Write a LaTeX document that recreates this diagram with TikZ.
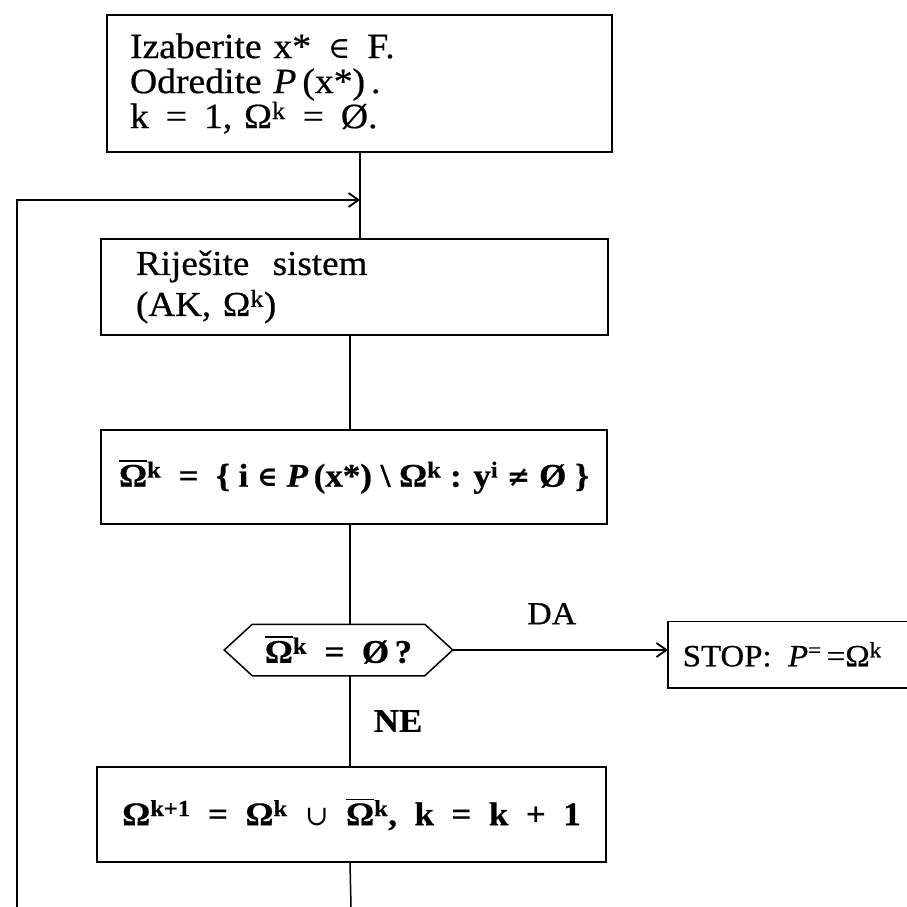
\documentclass[tikz,border=0pt]{standalone}
\usepackage{fontspec}
\setmainfont{Liberation Serif}[FakeStretch=1.06, FakeBold=0.6]
\newfontfamily\symf{DejaVu Serif}[Scale=0.85]
\usetikzlibrary{arrows.meta}
\newcommand\obar[1]{\setbox0\hbox{#1}\rlap{\raisebox{\dimexpr\ht0+3pt\relax}{\rule{\wd0}{1.6pt}}}\box0}
\newcommand\sy[1]{{\symf #1}}
\newcommand\gap{\hspace{17pt}}
\begin{document}
\begin{tikzpicture}[x=1pt,y=-1pt,line width=1.5pt,
  every node/.style={inner sep=0pt},
  flowbox/.style={draw, line width=1.5pt},
  arr/.style={-{Straight Barb[length=10pt,width=14pt,line width=1.8pt]}},
  boldtxt/.style={font=\fontsize{33}{36}\selectfont\bfseries}]
\useasboundingbox (0,0) rectangle (907,907);

% boxes
\node[flowbox, minimum width=505pt, minimum height=137pt, text width=459pt, align=left,
  font=\fontsize{35.5}{35}\selectfont] (b1) at (359.5,83.5)
  {Izaberite x*\gap\sy{∈}\gap F.\\
   Odredite \textit{P}\,(x*)\,.\\
   k\gap=\gap1, Ω\textsuperscript{k}\gap=\gap Ø.};
\node[flowbox, minimum width=507pt, minimum height=96pt, text width=437pt, align=left,
  font=\fontsize{35}{41}\selectfont] (b2) at (354.5,287)
  {Riješite \ sistem\\(AK, Ω\textsuperscript{k})};
\node[flowbox, boldtxt, minimum width=506pt, minimum height=94pt] (b3) at (354,477)
  {\obar{Ω}\textsuperscript{k} \ = \ \{ i \sy{∈} \textit{P}\,(x*) \textbackslash\ Ω\textsuperscript{k} : y\textsuperscript{i} \sy{≠} Ø \}};
\node[boldtxt, minimum width=227pt, minimum height=50pt] (hex) at (338.5,650)
  {\obar{Ω}\textsuperscript{k} \ = \ Ø\,?};
\draw ([xshift=28pt]hex.north west) -- ([xshift=-28pt]hex.north east) -- (hex.east)
  -- ([xshift=-28pt]hex.south east) -- ([xshift=28pt]hex.south west) -- (hex.west) -- cycle;
\node[minimum height=65pt, anchor=west, font=\fontsize{31}{36}\selectfont] (stop) at (682,654.5)
  {STOP: \ \textit{P}\textsuperscript{=}\,=Ω\textsuperscript{k}};
\draw ([xshift=225pt]stop.north west) -- ([xshift=-14pt]stop.north west) -- ([xshift=-14pt]stop.south west) -- ([xshift=225pt]stop.south west);
\node[flowbox, boldtxt, minimum width=509pt, minimum height=95pt] (b4) at (351.5,814.5)
  {Ω\textsuperscript{k+1} \ = \ Ω\textsuperscript{k} \ {\mdseries\sy{∪}} \ \obar{Ω}\textsuperscript{k}, \ k \ = \ k \ + \ 1};

% coordinates
\coordinate (c1) at (360,0);
\coordinate (c2) at (350,0);
\coordinate (merge) at (360,200);
\coordinate (loopbot) at (17,907);
\coordinate (outbot) at (351,907);
\coordinate (stopin) at ([xshift=-14pt]stop.west);

% connectors
\draw (b1.south -| c1) -- (b2.north -| c1);
\draw[arr] (loopbot) |- (merge);
\draw (b2.south -| c2) -- (b3.north -| c2);
\draw (b3.south -| c2) -- (hex.north -| c2);
\draw (hex.south -| c2) -- node[right=23pt, font=\fontsize{33}{36}\selectfont\bfseries] (ne) {NE} (b4.north -| c2);
\draw (b4.south -| c2) -- (outbot);
\draw[arr] (hex.east) -- node[pos=0.46, above=25pt, font=\fontsize{32}{36}\selectfont] (da) {DA} (hex.east -| stopin);
\end{tikzpicture}
\end{document}
